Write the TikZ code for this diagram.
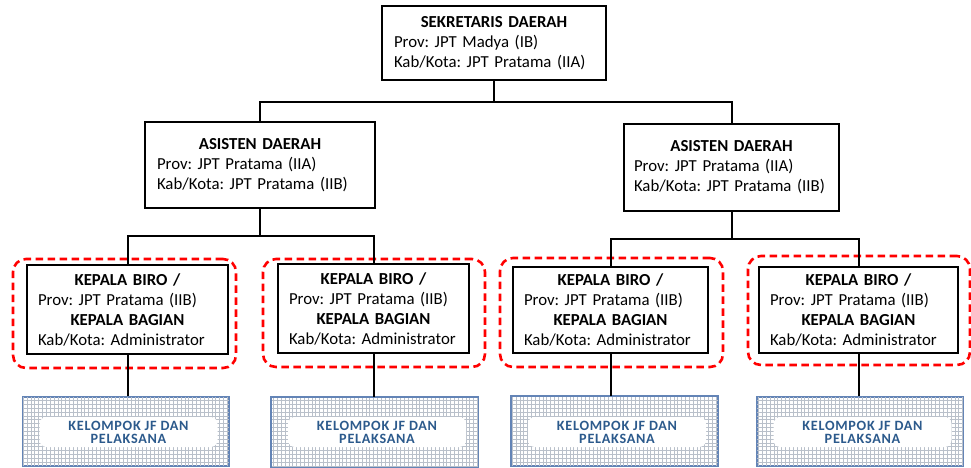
\documentclass[tikz,border=0pt]{standalone}
\usepackage{fontspec}
\setmainfont{Carlito}
\usepackage{xcolor}
\usetikzlibrary{positioning, calc}
\definecolor{jfblue}{HTML}{2C5A8C}
\definecolor{gridgray}{HTML}{B9C0CA}
\definecolor{gridedge}{HTML}{6384B6}
\tikzstyle{jab} = [rectangle, draw, line width=2.2pt, inner xsep=12pt, inner ysep=2pt, align=left, font=\fontsize{16.8}{20}\selectfont\frenchspacing]
\tikzstyle{fokus} = [rectangle, draw=red, line width=2.6pt, rounded corners=13pt, dash pattern=on 7.5pt off 4.5pt]
\tikzstyle{garis} = [line width=2pt]
\tikzstyle{jfbox} = [rectangle, draw=gridedge, line width=1.2pt, minimum width=206pt, minimum height=69pt]
\tikzstyle{jftext} = [rectangle, fill=white, rounded corners=7pt, minimum width=178pt, minimum height=30pt, inner sep=0pt, align=center, text=jfblue, font=\fontsize{14.2}{13}\selectfont\bfseries\addfontfeature{LetterSpace=5}]
\def\ttl#1{\leavevmode\hbox to \hsize{\hfil\textbf{#1}\hfil}}
\def\kepala{\ttl{KEPALA BIRO /}\\Prov: JPT Pratama (IIB)\\\ttl{KEPALA BAGIAN}\\Kab/Kota: Administrator}
\def\jf{KELOMPOK JF DAN\\PELAKSANA}

\begin{document}
\begin{tikzpicture}[x=1pt, y=-1pt]
    \useasboundingbox (0,0) rectangle (971,467);
    % top
    \node[jab, text width=200pt, minimum height=74pt] (sekda) at (494,43) {\ttl{SEKRETARIS DAERAH}\\Prov: JPT Madya (IB)\\Kab/Kota: JPT Pratama (IIA)};
    \node[jab, text width=206pt, minimum height=86pt] (asL) at (260,165) {\ttl{ASISTEN DAERAH}\\Prov: JPT Pratama (IIA)\\Kab/Kota: JPT Pratama (IIB)};
    \node[jab, inner xsep=10pt, text width=195pt, minimum height=87pt] (asR) at (731.5,167.5) {\ttl{ASISTEN DAERAH}\\Prov: JPT Pratama (IIA)\\Kab/Kota: JPT Pratama (IIB)};
    % red frames
    \node[fokus, minimum width=223pt, minimum height=109pt] (f1) at (124.5,313.5) {};
    \node[fokus, minimum width=222pt, minimum height=108pt] (f2) at (374,313) {};
    \node[fokus, minimum width=223pt, minimum height=109pt] (f3) at (611.5,312.5) {};
    \node[fokus, minimum width=222pt, minimum height=109pt] (f4) at (859,310.5) {};
    % kepala biro / bagian
    \node[jab, inner xsep=11pt, text width=179pt, minimum height=89pt] (k1) at (127.5,309.5) {\kepala};
    \node[jab, inner xsep=11pt, text width=169pt, minimum height=89pt] (k2) at (373.5,308.5) {\kepala};
    \node[jab, inner xsep=11pt, text width=173pt, minimum height=86pt] (k3) at (610.5,310) {\kepala};
    \node[jab, inner xsep=11pt, text width=177pt, minimum height=86pt] (k4) at (858.5,310) {\kepala};
    % kelompok jf
    \node[jfbox] (jf1) at (126,431.5) {};
    \node[jfbox] (jf2) at (374.5,432) {};
    \node[jfbox] (jf3) at (614.5,431) {};
    \node[jfbox] (jf4) at (860,431.5) {};
    \begin{scope}
      \clip (jf1.south west) rectangle (jf1.north east) (jf2.south west) rectangle (jf2.north east) (jf3.south west) rectangle (jf3.north east) (jf4.south west) rectangle (jf4.north east);
      \draw[gridgray, line width=0.5pt, step=3.85pt] (0,380) grid (971,467);
    \end{scope}
    \draw[gridedge, line width=1.2pt] (jf1.south west) rectangle (jf1.north east) (jf2.south west) rectangle (jf2.north east) (jf3.south west) rectangle (jf3.north east) (jf4.south west) rectangle (jf4.north east);
    \node[jftext] (jt1) at (128.5,432) {\jf};
    \node[jftext] (jt2) at (377,432) {\jf};
    \node[jftext] (jt3) at (617,432) {\jf};
    \node[jftext] (jt4) at (862.5,432) {\jf};
    % connectors
    \coordinate (t0) at (494,102);
    \coordinate (t1) at (260,236);
    \coordinate (t2) at (731.5,239);
    \draw[garis] (sekda.south) -- (t0);
    \draw[garis] (t0) -| (asL.north);
    \draw[garis] (t0) -| (asR.north);
    \draw[garis] (asL.south) -- (t1);
    \draw[garis] (t1) -| (k1.north);
    \draw[garis] (t1) -| (k2.north);
    \draw[garis] (asR.south) -- (t2);
    \draw[garis] (t2) -| (k3.north);
    \draw[garis] (t2) -| (k4.north);
    \draw[garis] (k1.south) -- (k1.south |- jf1.north);
    \draw[garis] (k2.south) -- (k2.south |- jf2.north);
    \draw[garis] (k3.south) -- (k3.south |- jf3.north);
    \draw[garis] (k4.south) -- (k4.south |- jf4.north);
  \end{tikzpicture}
\end{document}
